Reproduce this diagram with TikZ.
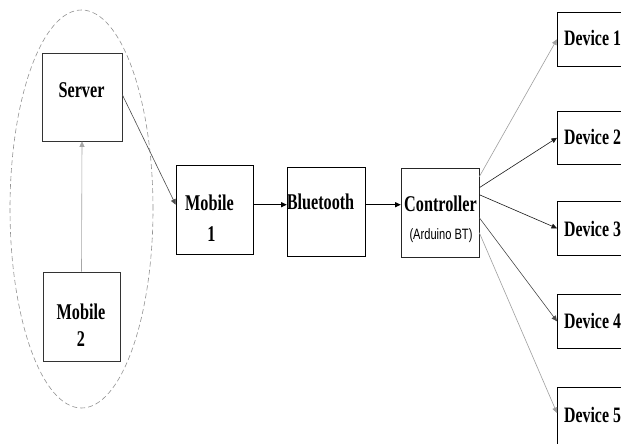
\documentclass[tikz,border=0pt]{standalone}
\usepackage{fontspec}
\setmainfont{Liberation Serif}[FakeStretch=0.72]
\newfontfamily\arialn{Liberation Sans}[FakeStretch=0.74]
\usetikzlibrary{arrows.meta,calc,shapes.geometric}
\begin{document}
\begin{tikzpicture}[x=1pt,y=-1pt,
  box/.style={draw=black,line width=0.6pt,rectangle,inner sep=0pt},
  lbl/.style={font=\bfseries\fontsize{22.5}{24}\selectfont,inner sep=0pt},
  dev/.style={font=\bfseries\fontsize{22}{24}\selectfont,inner sep=0pt,anchor=west},
  sub/.style={font=\arialn\fontsize{15}{17}\selectfont,inner sep=0pt},
  arr/.style={line width=0.6pt,-{Triangle[length=5.5pt,width=5pt]}},
  grouping/.style={draw=gray!85,dashed,dash pattern=on 5pt off 3pt,line width=0.6pt,ellipse,inner sep=0pt}
]
\useasboundingbox[fill=white] (0,0) rectangle (621,444);

% dashed group
\node[grouping,minimum width=143pt,minimum height=398pt] (grp) at (81.5,209) {};

% boxes
\node[box,draw=black!80,minimum width=80pt,minimum height=88pt] (server) at (82,97) {};
\node[box,draw=black!80,minimum width=77pt,minimum height=89pt] (mob2) at (81.5,316.5) {};
\node[box,minimum width=77pt,minimum height=89pt] (mob1) at (214.5,209.5) {};
\node[box,minimum width=78pt,minimum height=89pt] (bt) at (326,211.5) {};
\node[box,draw=black!85,minimum width=78pt,minimum height=89pt] (ctrl) at (440,212.5) {};
\node[box,anchor=north west,minimum width=120pt,minimum height=54pt] (d1) at (557,12) {};
\node[box,anchor=north west,minimum width=120pt,minimum height=53pt] (d2) at (557,111) {};
\node[box,anchor=north west,minimum width=120pt,minimum height=54pt] (d3) at (557,201) {};
\node[box,anchor=north west,minimum width=120pt,minimum height=54pt] (d4) at (557,294) {};
\node[box,anchor=north west,minimum width=120pt,minimum height=80pt] (d5) at (557,387) {};

% texts
\node[lbl] (tserver) at (81.5,90) {Server};
\node[lbl] (tmob2a) at (81,312) {Mobile};
\node[lbl] (tmob2b) at (81,339) {2};
\node[lbl] (tmob1a) at (209.5,203) {Mobile};
\node[lbl] (tmob1b) at (211.5,234) {1};
\node[lbl] (tbt) at (320.5,202) {Bluetooth};
\node[lbl] (tctrl) at (440.5,204) {Controller};
\node[sub] (tard) at (441,236) {(Arduino BT)};
\node[dev] (td1) at (564,38) {Device 1};
\node[dev] (td2) at (564,137) {Device 2};
\node[dev] (td3) at (564,229) {Device 3};
\node[dev] (td4) at (564,321) {Device 4};
\node[dev] (td5) at (564,415) {Device 5};

% connector endpoints
\coordinate (sOut) at ($(server.north east)+(0,42)$);
\coordinate (m1In) at ($(mob1.north west)+(0,40)$);
\coordinate (m1Out) at ($(mob1.north east)+(0,40)$);
\coordinate (btIn) at ($(bt.north west)+(0,38)$);
\coordinate (btOut) at ($(bt.north east)+(0,38)$);
\coordinate (cIn) at ($(ctrl.north west)+(0,37)$);
\coordinate (c1) at ($(ctrl.north east)+(0,9)$);
\coordinate (c2) at ($(ctrl.north east)+(0,20)$);
\coordinate (c3) at ($(ctrl.north east)+(0,27)$);
\coordinate (c4) at ($(ctrl.north east)+(0,50)$);
\coordinate (c5) at ($(ctrl.north east)+(0,65)$);
\coordinate (d5In) at ($(d5.north west)+(0,26)$);

% connectors
\draw[arr,draw=gray!70] (mob2.north) -- (server.south);
\draw[arr,draw=black!70] (sOut) -- (m1In);
\draw[arr] (m1Out) -- (btIn);
\draw[arr] (btOut) -- (cIn);
\draw[arr,draw=gray!75] (c1) -- (d1.west);
\draw[arr,draw=black!90] (c2) -- (d2.west);
\draw[arr,draw=black!90] (c3) -- (d3.west);
\draw[arr,draw=black!70] (c4) -- (d4.west);
\draw[arr,draw=gray!75] (c5) -- (d5In);
\end{tikzpicture}
\end{document}
